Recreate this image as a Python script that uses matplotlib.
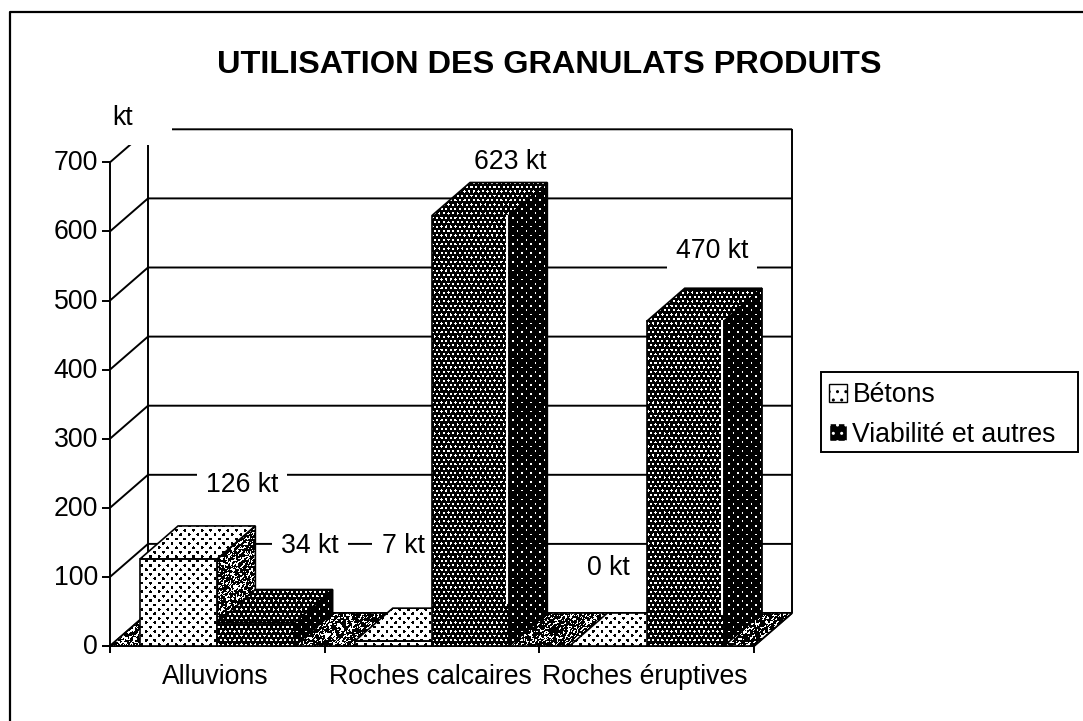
import numpy as np
import matplotlib
matplotlib.use('Agg')
import matplotlib.pyplot as plt
from matplotlib.patches import Polygon, Patch, Rectangle

plt.rcParams['font.family'] = ['Liberation Sans', 'DejaVu Sans']

categories = ['Alluvions', 'Roches calcaires', 'Roches éruptives']
series_names = ['Bétons', 'Viabilité et autres']
betons = [126, 7, 0]
viabilite = [34, 623, 470]
yticks = [0, 100, 200, 300, 400, 500, 600, 700]
value_labels = ['126 kt', '34 kt', '7 kt', '623 kt', '0 kt', '470 kt']

W, H = 1083, 721
# position of the front plane in the image
X0, PX_X = 110, 214.7
Y0, PX_Y = 646, 0.691
DX, DY = 38 / PX_X, 33 / PX_Y   # depth of the 3d box
BAR_W = 0.36
FS = 19.2

fig = plt.figure(figsize=(W / 100, H / 100), dpi=100)
ax = fig.add_axes([0, 0, 1, 1])
ax.set_xlim(-X0 / PX_X, (W - X0) / PX_X)
ax.set_ylim((Y0 - H) / PX_Y, Y0 / PX_Y)
ax.axis('off')


def px(x, y):
    # image pixels to data coords, for layout only
    return (x - X0) / PX_X, (Y0 - y) / PX_Y


# printed patterns, one boolean image per fill
yy, xx = np.mgrid[0:H, 0:W] + 0.5


def dots(step_x, step_y, radius):
    row = np.floor(yy / step_y)
    xs = xx + (row % 2) * step_x / 2
    dx = (xs % step_x) - step_x / 2
    dy = (yy % step_y) - step_y / 2
    return dx * dx + dy * dy < radius * radius


light = ~dots(8.6, 4.4, 1.5)
dark = dots(4.6, 4.4, 1.15)
dark_side = dots(9.0, 4.4, 1.0)
# speckle of the scanned grey fill, a fixed hash of the pixel position
speck = np.sin(xx * 12.9898 + yy * 78.233) * 43758.5453
speck = speck - np.floor(speck)
noise = (speck + np.roll(speck, 1, axis=0) + np.roll(speck, 1, axis=1)) > 1.75


def fill(verts, pattern, zorder):
    im = ax.imshow(pattern, cmap='gray', vmin=0, vmax=1, extent=(*ax.get_xlim(), *ax.get_ylim()),
                   interpolation='nearest', aspect='auto', zorder=zorder)
    poly = Polygon(verts, closed=True, transform=ax.transData, fill=False, edgecolor='k', lw=1.2, zorder=zorder + 0.1)
    im.set_clip_path(poly)
    ax.add_patch(poly)


def bar(x, w, v, front, side, top, z):
    fill([(x + w, 0), (x + w + DX, DY), (x + w + DX, v + DY), (x + w, v)], side, z)
    fill([(x, v), (x + DX, v + DY), (x + w + DX, v + DY), (x + w, v)], top, z)
    if v > 0:
        fill([(x, 0), (x + w, 0), (x + w, v), (x, v)], front, z)


# walls
line = dict(color='k', lw=1.4, zorder=1, solid_capstyle='butt')
for v in yticks:
    ax.plot([0, DX, 3 + DX], [v, v + DY, v + DY], **line)
    ax.plot([-8 / PX_X, 0], [v, v], **line)
ax.plot([0, 0], [-7 / PX_Y, 700], **line)
ax.plot([DX, DX], [DY, 700 + DY], **line)
ax.plot([3 + DX, 3 + DX], [DY, 700 + DY], **line)
ax.plot([-8 / PX_X, 3, 3 + DX], [0, 0, DY], **line)
for i in range(4):
    ax.plot([i, i], [-7 / PX_Y, 0], **line)

# white block of the axis title hides the corner of the wall
x1, y1 = px(11, 145)
x2, y2 = px(172, 60)
ax.add_patch(Rectangle((x1, y1), x2 - x1, y2 - y1, fc='w', ec='none', zorder=1.5))

# floor
fill([(0, 0), (3, 0), (3 + DX, DY), (DX, DY)], noise, 2)

# value labels with their white boxes over the grid lines
label_pos = [(242, 485), (310, 546), (403, 546), (510, 162), (608, 568), (712, 251)]
label_pad = [6.5, 6.5, 6.5, 6.5, 2, 6.5]
for s, (lx, ly), pad in zip(value_labels, label_pos, label_pad):
    ax.text(*px(lx, ly), s, ha='center', va='center', fontsize=FS, zorder=2.5,
            bbox=dict(fc='w', ec='none', pad=pad))

# bars, left to right
for i, cat in enumerate(categories):
    x_b = i + 0.5 - BAR_W
    x_v = i + 0.5
    bar(x_b, BAR_W, betons[i], light, noise, light, 3 + i)
    bar(x_v, BAR_W, viabilite[i], dark, dark_side, dark, 3.4 + i)
    if viabilite[i] > 100:
        # white sliver left between front and side by the printer
        xs = x_v + BAR_W - 2 / PX_X
        ax.plot([xs, xs], [viabilite[i] * 0.1, viabilite[i]], color='w', lw=1.5, zorder=3.7 + i)
    ax.text(i + 0.49, px(0, 677)[1], cat, ha='center', va='center', fontsize=FS, zorder=10)

for v in yticks:
    ax.text(px(98, 0)[0], v - 1.5, str(v), ha='right', va='center', fontsize=FS, zorder=10)

ax.text(*px(123, 118), 'kt', ha='center', va='center', fontsize=FS, zorder=10)
ax.text(*px(549, 65), 'UTILISATION DES GRANULATS PRODUITS', ha='center', va='center',
        fontsize=23.4, fontweight='bold', zorder=10)

# legend, its box is drawn apart because the padding is not even
handles = [Patch(fc='w', ec='k', hatch='..', label=series_names[0]),
           Patch(fc='k', ec='w', hatch='..', label=series_names[1])]
leg = ax.legend(handles=handles, loc='center left', bbox_to_anchor=px(821, 415), bbox_transform=ax.transData,
                fontsize=FS, frameon=False, handlelength=0.68, handleheight=0.68, handletextpad=0.2,
                borderpad=0.3, labelspacing=0.5, borderaxespad=0)
leg.set_zorder(11)
x1, y1 = px(821, 452)
x2, y2 = px(1078, 372)
ax.add_patch(Rectangle((x1, y1), x2 - x1, y2 - y1, fc='none', ec='k', lw=1.4, zorder=11))

# page frame: only top and left edges are on the scan
ax.plot(*px(np.array([10, 10, 1083]), np.array([721, 12, 12])), color='k', lw=1.6, zorder=12)

fig.savefig('out.png', dpi=100)
